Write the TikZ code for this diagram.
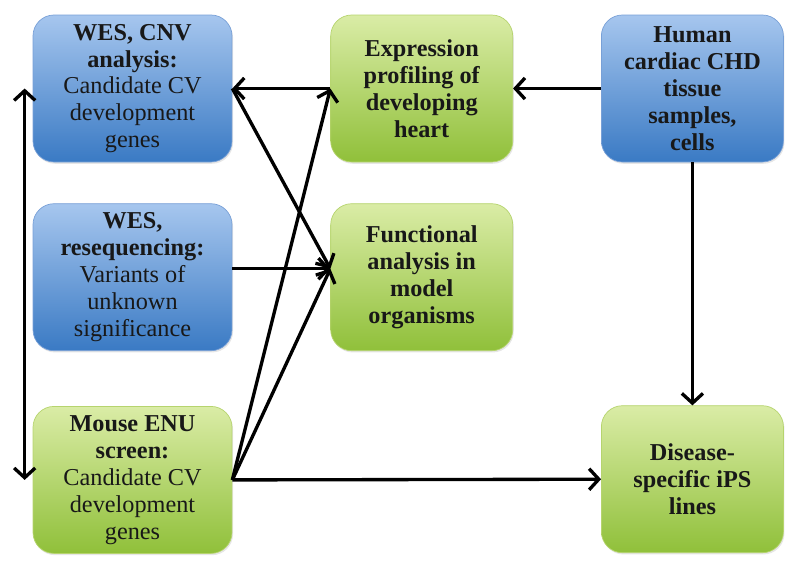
\documentclass[tikz,border=0pt]{standalone}
\usepackage{fontspec}
\setmainfont{Liberation Serif}
\usetikzlibrary{positioning, arrows.meta, shadows}
\definecolor{bluetop}{RGB}{166,198,238}
\definecolor{bluebot}{RGB}{58,122,196}
\definecolor{blueline}{RGB}{120,160,215}
\definecolor{greentop}{RGB}{218,236,166}
\definecolor{greenbot}{RGB}{144,192,58}
\definecolor{greenline}{RGB}{182,212,110}
\definecolor{textdark}{RGB}{24,24,24}
\tikzstyle{sample} = [rectangle, rounded corners=0.42cm, minimum height=2.94cm, text centered, draw=blueline, top color=bluetop, bottom color=bluebot, drop shadow={opacity=0.2, shadow xshift=0.6pt, shadow yshift=-1pt}]
\tikzstyle{model} = [rectangle, rounded corners=0.42cm, minimum height=2.94cm, text centered, draw=greenline, top color=greentop, bottom color=greenbot, drop shadow={opacity=0.2, shadow xshift=0.6pt, shadow yshift=-1pt}]
\tikzstyle{arrow} = [line width=1.9pt, ->, >={Straight Barb[length=5.5pt, width=12pt]}]

\begin{document}
\begin{tikzpicture}[align=center, font=\fontsize{13.8}{15.3}\selectfont\color{textdark}]

\useasboundingbox (0,0) rectangle (16,-11.46);

% Nodes
\node (wescnv) [sample, minimum width=3.98cm] at (2.65,-1.77) {\bfseries WES, CNV \\ \bfseries analysis: \\Candidate CV \\development \\genes};

\node (expr) [model, minimum width=3.64cm, right=1.96cm of wescnv] {\bfseries Expression \\ \bfseries profiling of \\ \bfseries developing \\ \bfseries heart};

\node (human) [sample, minimum width=3.64cm, right=1.76cm of expr] {\bfseries Human \\ \bfseries cardiac CHD \\ \bfseries tissue \\ \bfseries samples, \\ \bfseries cells};

\node (reseq) [sample, minimum width=3.98cm, below=0.82cm of wescnv] {\bfseries WES, \\ \bfseries resequencing: \\Variants of \\unknown \\significance};

\node (func) [model, minimum width=3.64cm, below=0.82cm of expr] {\bfseries Functional \\ \bfseries analysis in \\ \bfseries model \\ \bfseries organisms};

\node (mouse) [model, minimum width=3.98cm, below=1.1cm of reseq] {\bfseries Mouse ENU \\ \bfseries screen: \\Candidate CV \\development \\genes};

\node (ips) [model, minimum width=3.64cm, below=4.86cm of human] {\bfseries Disease- \\ \bfseries specific iPS \\ \bfseries lines};

\coordinate (lefttop) at ([xshift=-0.16cm]wescnv.west);
\coordinate (leftbot) at ([xshift=-0.16cm]mouse.west);
\coordinate (funcin) at ([yshift=0.17cm]func.west);

% Arrows
\draw [arrow] (human.west) -- (expr.east);
\draw [arrow] (expr.west) -- (wescnv.east);
\draw [arrow, <->] (lefttop) -- (leftbot);
\draw [arrow] (wescnv.east) -- (funcin);
\draw [arrow] (reseq.east |- funcin) -- (funcin);
\draw [arrow] (mouse.east) -- (expr.west);
\draw [arrow] (mouse.east) -- (funcin);
\draw [arrow] (mouse.east) -- (ips.west);
\draw [arrow] (human.south) -- (ips.north);

\end{tikzpicture}
\end{document}
